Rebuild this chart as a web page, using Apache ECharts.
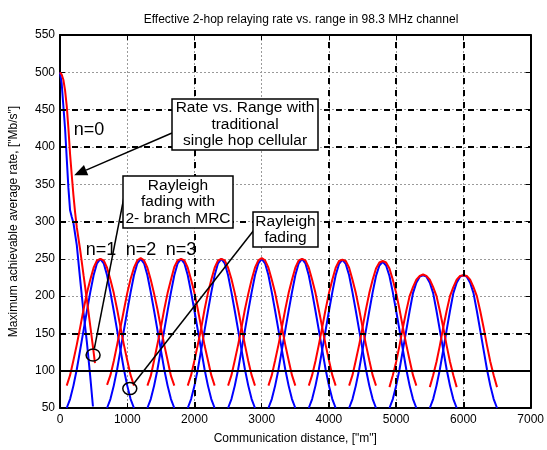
<!DOCTYPE html>
<html><head><meta charset="utf-8">
<script src="https://cdn.jsdelivr.net/npm/echarts@6/dist/echarts.min.js"></script>
<style>html,body{margin:0;padding:0;background:#fff}#c{width:547px;height:450px}</style>
</head><body><div id="c"></div>
<script>
const titleText = 'Effective 2-hop relaying rate vs. range in 98.3 MHz channel';
const xName = 'Communication distance, ["m"]';
const yName = 'Maximum achievable average rate, ["Mb/s"]';
const xMin = 0, xMax = 7000, xStep = 1000;
const yMin = 50, yMax = 550, yStep = 50;

// n=0 : direct single-hop curves
const n0RedX  = [0, 25, 50, 75, 100, 125, 150, 175, 200, 225, 250, 300, 350, 400, 450, 500, 520];
const n0Red   = [500, 497, 490, 476, 455, 425, 390, 362, 335, 312, 292, 262, 228, 195, 160, 125, 110];
const n0BlueX = [0, 25, 50, 75, 100, 125, 150, 175, 200, 250, 300, 350, 400, 450, 490];
const n0Blue  = [500, 485, 455, 425, 385, 345, 315, 306, 298, 268, 222, 178, 138, 92, 52];

// relaying humps n=1..10
const humpCenters = [600, 1200, 1800, 2400, 3000, 3600, 4200, 4800, 5400, 6000];
const humpOffsets = [-500,-450,-400,-350,-300,-250,-200,-150,-100,-50,0,50,100,150,200,250,300,350,400,450,500];
const redHumps = [
  [80,94,114,135,158,182,204,222,238,248,250,248,238,222,204,182,158,135,114,94,80],
  [81,94,113,135,158,181,204,223,238,248,251,248,238,222,203,182,158,135,114,93,80],
  [80,93,114,136,158,182,204,222,239,248,250,248,238,222,204,182,158,134,114,94,80],
  [80,94,114,135,157,182,204,222,238,248,250,248,238,223,204,182,158,135,113,94,80],
  [80,94,114,135,158,182,203,222,238,248,251,248,238,222,204,182,158,135,114,94,80],
  [80,94,114,135,158,182,204,222,238,248,250,248,238,222,204,181,158,135,114,94,80],
  [80,94,113,135,158,182,204,222,238,247,249,247,238,222,204,182,158,135,114,94,80],
  [80,94,114,135,158,182,204,222,237,245,247,245,237,222,204,182,158,135,114,94,80],
  [78,94,112,134,158,180,200,212,222,227,229,227,222,212,200,180,158,134,112,94,78],
  [78,94,112,134,158,180,200,212,222,227,228,227,222,212,200,180,158,134,112,94,78]
];
const blueHumps = [
  [50,62,80,102,128,154,180,205,228,244,250,244,228,205,180,154,128,102,80,62,50],
  [50,62,80,102,128,154,180,205,228,244,250,244,228,205,180,154,128,102,80,62,50],
  [50,62,80,102,128,154,180,205,228,244,250,244,228,205,180,154,128,102,80,62,50],
  [50,62,80,102,128,154,180,205,228,244,250,244,228,205,180,154,128,102,80,62,50],
  [50,62,80,102,128,154,180,205,228,244,250,244,228,205,180,154,128,102,80,62,50],
  [50,62,80,102,128,154,180,205,228,244,250,244,228,205,180,154,128,102,80,62,50],
  [50,62,80,102,128,154,180,205,228,243,249,243,228,205,180,154,128,102,80,62,50],
  [50,62,80,102,128,154,180,205,227,241,246,241,227,205,180,154,128,102,80,62,50],
  [50,62,80,102,128,154,180,204,218,226,228,226,218,204,180,154,128,102,80,62,50],
  [50,62,80,102,128,154,180,204,218,226,228,226,218,204,180,154,128,102,80,62,50]
];

const boldGridX = [2000, 4000, 5000, 6000];
const boldGridY = [150, 300, 400, 450];
const refLineY = [100];

const hopLabels = ['n=0', 'n=1', 'n=2', 'n=3'];
const box1Text = 'Rate vs. Range with\ntraditional\nsingle hop cellular';
const box2Text = 'Rayleigh\nfading with\n2- branch MRC';
const box3Text = 'Rayleigh\nfading';

const FONT = 'Arial, "Liberation Sans", Helvetica, sans-serif';
const chart = echarts.init(document.getElementById('c'), null, {renderer: 'canvas'});

function pairs(xs, ys) { return xs.map((x, i) => [x, ys[i]]); }
const series = [];
// bold dashed grid lines (under curves)
series.push({
  type: 'line', data: [], silent: true, z: 1,
  markLine: {
    silent: true, symbol: ['none', 'none'], label: {show: false}, animation: false,
    lineStyle: {color: '#000', width: 2, type: [6, 6]},
    data: boldGridX.map(v => ({xAxis: v})).concat(boldGridY.map(v => ({yAxis: v})))
  }
});
const lineCommon = {type: 'line', showSymbol: false, symbol: 'none', animation: false, silent: true};
series.push(Object.assign({}, lineCommon, {data: pairs(n0BlueX, n0Blue), lineStyle: {color: '#0000ff', width: 2}, z: 3}));
humpCenters.forEach((c, i) => {
  series.push(Object.assign({}, lineCommon, {data: pairs(humpOffsets.map(o => c + o), blueHumps[i]), lineStyle: {color: '#0000ff', width: 2}, z: 3}));
});
series.push(Object.assign({}, lineCommon, {data: pairs(n0RedX, n0Red), lineStyle: {color: '#ff0000', width: 2}, z: 4}));
humpCenters.forEach((c, i) => {
  series.push(Object.assign({}, lineCommon, {data: pairs(humpOffsets.map(o => c + o), redHumps[i]), lineStyle: {color: '#ff0000', width: 2}, z: 4}));
});
series.push({
  type: 'line', data: [], silent: true, z: 5,
  markLine: {
    silent: true, symbol: ['none', 'none'], label: {show: false}, animation: false,
    lineStyle: {color: '#000', width: 2, type: 'solid'},
    data: refLineY.map(v => ({yAxis: v}))
  }
});

const axisText = {color: '#000', fontSize: 12, fontFamily: FONT};
const splitLine = {show: true, lineStyle: {color: '#9a9a9a', width: 1, type: [2, 2]}};
const axLine = {show: true, onZero: false, lineStyle: {color: '#000', width: 2}};
const axTick = {show: true, inside: true, length: 5, lineStyle: {color: '#000', width: 1}};
const plain = v => String(v);

chart.setOption({
  animation: false,
  backgroundColor: '#fff',
  title: {text: titleText, left: 296, top: 9, textAlign: 'center',
    textStyle: {fontSize: 12, fontWeight: 'normal', color: '#000', fontFamily: FONT}},
  grid: {left: 59, right: 14, top: 35, bottom: 39, containLabel: false},
  xAxis: [
    {type: 'value', min: xMin, max: xMax, interval: xStep, position: 'bottom',
     axisLine: axLine, axisTick: axTick, splitLine: splitLine,
     axisLabel: Object.assign({margin: 6, formatter: plain}, axisText),
     name: xName, nameLocation: 'middle', nameGap: 25, nameTextStyle: axisText},
    {type: 'value', min: xMin, max: xMax, interval: xStep, position: 'top',
     axisLine: axLine, axisTick: axTick, splitLine: {show: false}, axisLabel: {show: false}}
  ],
  yAxis: [
    {type: 'value', min: yMin, max: yMax, interval: yStep, position: 'left',
     axisLine: axLine, axisTick: axTick, splitLine: splitLine,
     axisLabel: Object.assign({margin: 5, formatter: plain}, axisText),
     name: yName, nameLocation: 'middle', nameGap: 40, nameTextStyle: axisText},
    {type: 'value', min: yMin, max: yMax, interval: yStep, position: 'right',
     axisLine: axLine, axisTick: axTick, splitLine: {show: false}, axisLabel: {show: false}}
  ],
  series: series
});

// annotations
function px(x, y) { return chart.convertToPixel({gridIndex: 0}, [x, y]); }
const tip = px(211, 362);
const c1 = px(492, 121);
const c2 = px(1038, 76);
const g = [];
function box(x, y, w, h, text, lh) {
  g.push({type: 'rect', shape: {x: x, y: y, width: w, height: h}, style: {fill: '#fff', stroke: '#000', lineWidth: 1.5}, z: 20});
  g.push({type: 'text', x: x + w / 2, y: y + h / 2, z: 21,
    style: {text: text, fontSize: 15.5, fontFamily: FONT, fill: '#000', align: 'center', verticalAlign: 'middle', lineHeight: lh}});
}
function seg(a, b, z) {
  g.push({type: 'line', shape: {x1: a[0], y1: a[1], x2: b[0], y2: b[1]}, style: {stroke: '#000', lineWidth: 1.5}, z: z || 19});
}
function edgePoint(c, target, r) {
  const dx = target[0] - c[0], dy = target[1] - c[1], d = Math.hypot(dx, dy);
  return [c[0] + dx / d * r, c[1] + dy / d * r];
}
// arrow for box 1
const aStart = [172, 133];
{
  const dx = tip[0] - aStart[0], dy = tip[1] - aStart[1], d = Math.hypot(dx, dy);
  const ux = dx / d, uy = dy / d, L = 13, W = 5.5;
  const bx = tip[0] - ux * L, by = tip[1] - uy * L;
  seg(aStart, [bx, by]);
  g.push({type: 'polygon', shape: {points: [[tip[0], tip[1]], [bx - uy * W, by + ux * W], [bx + uy * W, by - ux * W]]}, style: {fill: '#000'}, z: 19});
}
// circles and pointers
g.push({type: 'ellipse', shape: {cx: c1[0], cy: c1[1], rx: 7, ry: 6}, style: {fill: 'none', stroke: '#000', lineWidth: 1.5}, z: 19});
g.push({type: 'ellipse', shape: {cx: c2[0], cy: c2[1], rx: 7, ry: 6}, style: {fill: 'none', stroke: '#000', lineWidth: 1.5}, z: 19});
const b2 = [124, 197];
seg(edgePoint(c1, b2, 6.5), b2);
const b3 = [254, 230];
seg(edgePoint(c2, b3, 6.5), b3);
box(172, 99, 146, 51, box1Text, 16.5);
box(123, 176, 110, 52, box2Text, 16.5);
box(253, 212, 65, 35, box3Text, 16);
// hop labels
const hopPos = [[89, 130], [101, 250], [141, 250], [181, 250]];
hopLabels.forEach((t, i) => {
  g.push({type: 'text', x: hopPos[i][0], y: hopPos[i][1], z: 18,
    style: {text: t, fontSize: 18, fontFamily: FONT, fill: '#000', align: 'center', verticalAlign: 'middle'}});
});
chart.setOption({graphic: g});
</script>
</body></html>
